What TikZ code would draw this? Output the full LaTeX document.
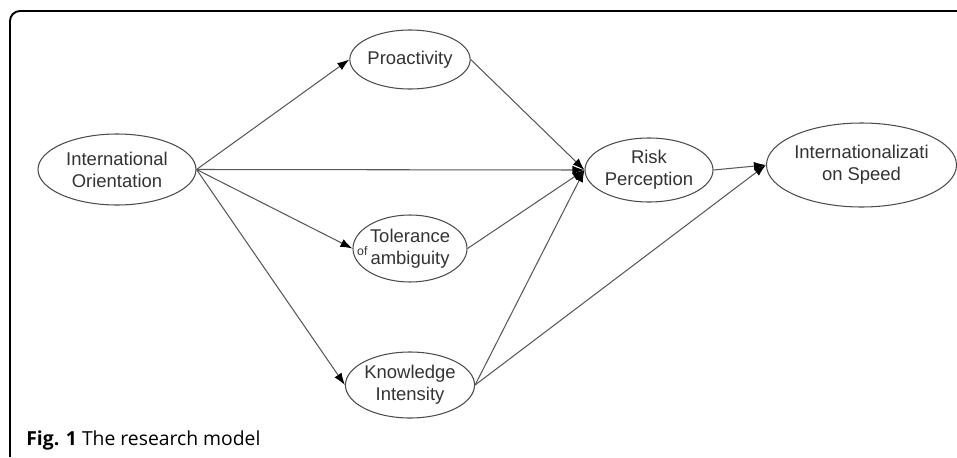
\documentclass[tikz,border=0pt]{standalone}
\usepackage{fontspec}
\setmainfont{Liberation Sans}
\newfontfamily\capfont{Open Sans}
\usepackage{tikz}
\usetikzlibrary{positioning,shapes,arrows.meta}
\tikzset {
    style A/.style={
        draw=black!70,
        line width=0.6pt,
        ellipse, % Set the shape as an ellipse
        inner sep=0pt,
        text=black!80,
        font=\fontsize{10.5}{12.5}\selectfont,
        align=center,
    },
    style E/.style={
        draw=black!65,
        line width=0.6pt,
        ->,
    },
}

\begin{document}
\begin{tikzpicture}
[>={Latex[length=2.4mm,width=1.7mm,color=black]}]

\useasboundingbox (0,0) rectangle (19.14,9.14);
\draw[line width=1.1pt, rounded corners=0.2cm] (0.2,0) -- (0.2,8.92) -- (19.14,8.92);

\node[style A, minimum width=3.16cm, minimum height=1.42cm] at (2.34,5.75) (intOr) {International\\Orientation};
\node[style A, minimum width=2.28cm, minimum height=1.18cm] at (8.2,7.95) (proact) {Proactivity};
\node[style A, minimum width=2.28cm, minimum height=1.34cm] at (8.2,4.17) (tolAmb) {Tolerance\\\llap{\raisebox{0.9ex}{\scriptsize of}\,}ambiguity};
\node[style A, minimum width=2.3cm, minimum height=1.32cm] at (8.2,1.44) (knowInt) {Knowledge\\Intensity};
\node[style A, minimum width=2.56cm, minimum height=1.28cm] at (12.98,5.74) (riskPer) {Risk\\Perception};
\node[style A, minimum width=3.26cm, minimum height=1.68cm] at (17.23,5.84) (intSpeed) {Internationalizati\\on Speed};

\node[anchor=base west, inner sep=0pt, font=\capfont\fontsize{11}{13}\selectfont] at (0.52,0.24) (caption) {\textbf{Fig. 1} The research model};

\draw[style E] (intOr.east) -- (proact.west);
\draw[style E] (intOr.east) -- (riskPer.west);
\draw[style E] (intOr.east) -- (tolAmb.west);
\draw[style E] (intOr.east) -- (knowInt.west);
\draw[style E] (proact.east) -- (riskPer.west);
\draw[style E] (tolAmb.east) -- (riskPer.west);
\draw[style E] (knowInt.east) -- (riskPer.west);
\draw[style E] (riskPer.east) -- (intSpeed.west);
\draw[style E] (knowInt.east) -- (intSpeed.west);
\end{tikzpicture}
\end{document}
